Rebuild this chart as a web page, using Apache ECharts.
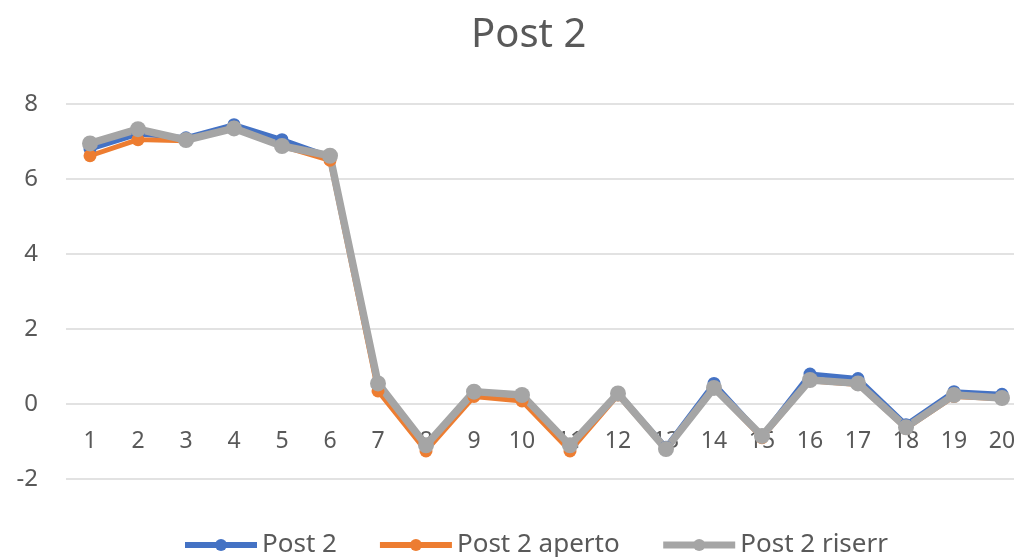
<!DOCTYPE html>
<html>
<head>
<meta charset="utf-8">
<script src="https://cdn.jsdelivr.net/npm/echarts@6/dist/echarts.min.js"></script>
<style>
  html, body { margin: 0; padding: 0; background: #fff; overflow: hidden; }
  #chart { width: 1014px; height: 557px; }
</style>
</head>
<body>
<div id="chart"></div>
<script>
const categories = ["1", "2", "3", "4", "5", "6", "7", "8", "9", "10",
  "11", "12", "13", "14", "15", "16", "17", "18", "19", "20"];
const post2 = [6.8, 7.2, 7.1, 7.45, 7.05, 6.6, 0.5, -1.1, 0.35, 0.2,
  -1.1, 0.3, -1.15, 0.55, -0.85, 0.8, 0.68, -0.55, 0.33, 0.26];
const post2Aperto = [6.62, 7.05, 7.02, 7.38, 6.88, 6.5, 0.35, -1.25, 0.2, 0.08,
  -1.25, 0.24, -1.22, 0.42, -0.9, 0.62, 0.52, -0.65, 0.2, 0.14];
const post2Riserr = [6.95, 7.33, 7.04, 7.35, 6.88, 6.62, 0.55, -1.1, 0.33, 0.24,
  -1.1, 0.28, -1.2, 0.43, -0.85, 0.64, 0.55, -0.62, 0.24, 0.16];

const font = "Noto Sans";
const textColor = "#595959";
const colors = { blue: "#4472c4", orange: "#ed7d31", gray: "#a5a5a5" };

const chart = echarts.init(document.getElementById("chart"));

const mkSeries = (name, data, color, width, size) => ({
  name,
  type: "line",
  data,
  symbol: "circle",
  symbolSize: size,
  lineStyle: { width, color },
  itemStyle: { color },
  animation: false,
});

chart.setOption({
  title: {
    text: "Post 2",
    left: 466,
    top: 11,
    textStyle: { fontFamily: font, fontSize: 40, fontWeight: "normal", color: textColor },
  },
  legend: {
    bottom: -6,
    left: 177,
    itemWidth: 72,
    itemHeight: 15,
    itemGap: 40,
    textStyle: { fontFamily: font, fontSize: 26, color: textColor },
    data: [
      { name: "Post 2", lineStyle: { width: 6 } },
      { name: "Post 2 aperto", lineStyle: { width: 6 } },
      { name: "Post 2 riserr", lineStyle: { width: 7 } },
    ],
  },
  grid: { left: 66, width: 960, top: 104, height: 375, outerBoundsMode: "none" },
  xAxis: {
    type: "category",
    data: categories,
    boundaryGap: true,
    // x labels sit under the zero line (2 units * 37.5px above the bottom)
    offset: -75,
    axisLine: { show: false, onZero: false },
    axisTick: { show: false },
    axisLabel: { fontFamily: font, fontSize: 23, color: textColor, margin: 26 },
  },
  yAxis: {
    type: "value",
    min: -2,
    max: 8,
    interval: 2,
    axisLine: { show: false },
    axisTick: { show: false },
    splitLine: { lineStyle: { color: "#d9d9d9", width: 1.5 } },
    axisLabel: { fontFamily: font, fontSize: 24, color: textColor, margin: 28 },
  },
  series: [
    mkSeries("Post 2", post2, colors.blue, 5, 13),
    mkSeries("Post 2 aperto", post2Aperto, colors.orange, 5, 13),
    mkSeries("Post 2 riserr", post2Riserr, colors.gray, 7.5, 16),
  ],
});
</script>
</body>
</html>
